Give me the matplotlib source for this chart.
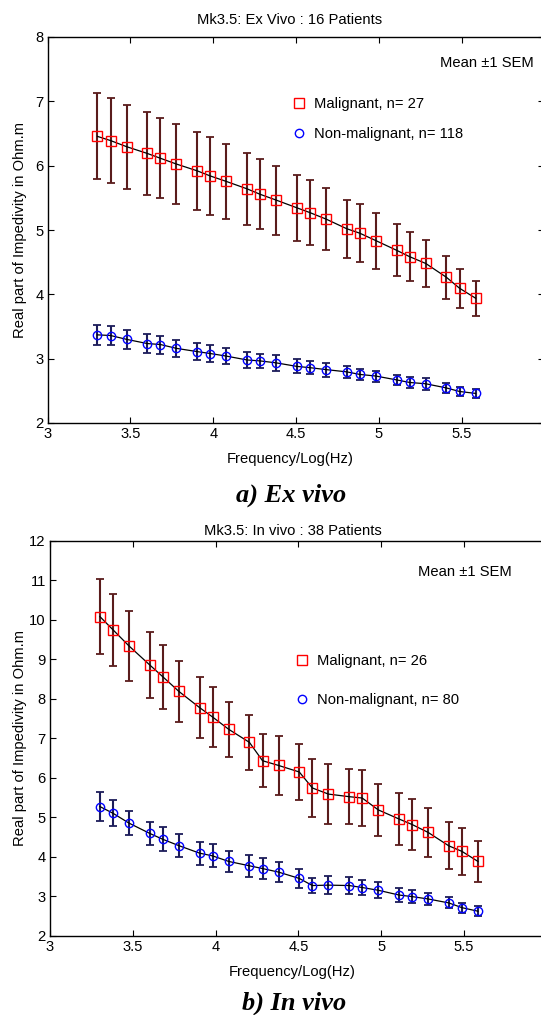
import matplotlib.pyplot as plt
import numpy as np
from matplotlib.lines import Line2D

# measurement frequencies (Hz), plotted on a log10 axis
freq_hz = [2000, 2400, 3000, 4000, 4800, 6000, 8000, 9600, 12000, 16000,
           19200, 24000, 32000, 38400, 48000, 64000, 76800, 96000, 128000,
           153600, 192000, 256000, 307200, 384000]

# ex vivo: 16 patients
exv_mal_mean = [6.455, 6.39, 6.295, 6.19, 6.115, 6.025, 5.92, 5.84, 5.755, 5.64,
                5.555, 5.465, 5.345, 5.27, 5.17, 5.02, 4.95, 4.835, 4.685, 4.585,
                4.48, 4.265, 4.095, 3.94]
exv_mal_sem = [0.67, 0.665, 0.655, 0.645, 0.625, 0.625, 0.61, 0.60, 0.585, 0.56,
               0.545, 0.535, 0.51, 0.505, 0.48, 0.45, 0.45, 0.435, 0.405, 0.385,
               0.37, 0.335, 0.305, 0.27]
exv_non_mean = [3.37, 3.36, 3.30, 3.235, 3.22, 3.16, 3.11, 3.08, 3.04, 2.98,
                2.965, 2.935, 2.88, 2.86, 2.83, 2.795, 2.755, 2.73, 2.67, 2.63,
                2.61, 2.545, 2.49, 2.46]
exv_non_sem = [0.155, 0.15, 0.15, 0.145, 0.14, 0.135, 0.135, 0.13, 0.12, 0.12,
               0.115, 0.12, 0.11, 0.105, 0.11, 0.095, 0.09, 0.085, 0.08, 0.08,
               0.09, 0.08, 0.07, 0.065]

# in vivo: 38 patients
inv_mal_mean = [10.08, 9.745, 9.335, 8.855, 8.555, 8.185, 7.775, 7.535, 7.225, 6.895,
                6.43, 6.31, 6.145, 5.74, 5.585, 5.52, 5.485, 5.185, 4.955, 4.815,
                4.615, 4.275, 4.135, 3.88]
inv_mal_sem = [0.95, 0.915, 0.875, 0.835, 0.805, 0.765, 0.765, 0.755, 0.695, 0.695,
               0.67, 0.74, 0.705, 0.74, 0.765, 0.70, 0.705, 0.665, 0.655, 0.645,
               0.615, 0.595, 0.595, 0.52]
inv_non_mean = [5.27, 5.10, 4.85, 4.59, 4.44, 4.28, 4.09, 4.02, 3.88, 3.77,
                3.70, 3.61, 3.45, 3.27, 3.28, 3.27, 3.22, 3.15, 3.03, 2.99,
                2.93, 2.83, 2.71, 2.62]
inv_non_sem = [0.36, 0.33, 0.30, 0.29, 0.305, 0.30, 0.29, 0.29, 0.275, 0.28,
               0.255, 0.26, 0.23, 0.20, 0.22, 0.22, 0.19, 0.20, 0.17, 0.17,
               0.16, 0.14, 0.13, 0.12]

panels = [
    dict(title='Mk3.5: Ex Vivo : 16 Patients', caption='a) Ex vivo',
         mal=(exv_mal_mean, exv_mal_sem), non=(exv_non_mean, exv_non_sem),
         n_mal=27, n_non=118, ylim=(2, 8), yticks=range(2, 9)),
    dict(title='Mk3.5: In vivo : 38 Patients', caption='b) In vivo',
         mal=(inv_mal_mean, inv_mal_sem), non=(inv_non_mean, inv_non_sem),
         n_mal=26, n_non=80, ylim=(2, 12), yticks=range(2, 13)),
]

W, H = 541, 1015
FS = 10.6
plt.rcParams['font.family'] = ['Liberation Sans', 'DejaVu Sans']
fig = plt.figure(figsize=(W / 100, H / 100), dpi=100)


def fx(px):
    return px / W


def fy(py):
    return 1 - py / H


# axes boxes in pixels: left, top, right, bottom
boxes = [(47.6, 37, 544.4, 423), (50, 540.7, 546.8, 935.7)]
title_y = [20, 531]
xlabel_y = [459, 972]
caption_xy = [(291, 502), (294, 1010)]
meanlbl = [(440, 63), (418, 572)]
legend_xy = [(292, 97), (295, 654)]
legend_gap = [1.1, 1.7]

x = np.log10(freq_hz)

for i, p in enumerate(panels):
    l, t, r, b = boxes[i]
    ax = fig.add_axes([fx(l), fy(b), fx(r) - fx(l), fy(t) - fy(b)])
    ax.set_xlim(3, 6)
    ax.set_ylim(*p['ylim'])
    ax.set_xticks(np.arange(3, 6.01, 0.5))
    ax.set_xticklabels(['3', '3.5', '4', '4.5', '5', '5.5', ''])
    ax.set_yticks(list(p['yticks']))
    ax.tick_params(direction='in', length=4, width=0.8, top=True, right=True,
                   labelsize=FS, pad=3)
    for s in ax.spines.values():
        s.set_linewidth(1.0)

    for (mean, sem), ebc, mc, mk, ms in [
            (p['mal'], '#5a1c1c', 'red', 's', 6.5),
            (p['non'], '#1c1c5a', 'blue', 'o', 6.0)]:
        ax.errorbar(x, mean, yerr=sem, fmt='none', ecolor=ebc, elinewidth=1.5,
                    capsize=3, capthick=1.3, zorder=2)
        ax.plot(x, mean, color='black', lw=0.9, zorder=3)
        ax.plot(x, mean, ls='none', marker=mk, ms=ms, mfc='none', mec=mc,
                mew=1.0, zorder=4)

    handles = [
        Line2D([], [], ls='none', marker='s', ms=6.5, mfc='none', mec='red', mew=1.0),
        Line2D([], [], ls='none', marker='o', ms=6.0, mfc='none', mec='blue', mew=1.0),
    ]
    lx, ly = legend_xy[i]
    fig.legend(handles, [f"Malignant, n= {p['n_mal']}", f"Non-malignant, n= {p['n_non']}"],
               loc='upper left', bbox_to_anchor=(fx(lx), fy(ly)), frameon=False,
               fontsize=FS, handlelength=1.0, handletextpad=0.5,
               labelspacing=legend_gap[i], borderpad=0, borderaxespad=0)

    fig.text(fx(meanlbl[i][0]), fy(meanlbl[i][1]), 'Mean \u00b11 SEM', fontsize=FS,
             ha='left', va='center')
    fig.text(fx((l + r) / 2 - 6), fy(title_y[i]), p['title'], fontsize=FS,
             ha='center', va='center')
    fig.text(fx((l + r) / 2 - 6), fy(xlabel_y[i]), 'Frequency/Log(Hz)', fontsize=FS,
             ha='center', va='center')
    fig.text(fx(20), fy((t + b) / 2), 'Real part of Impedivity in Ohm.m', fontsize=FS,
             rotation=90, ha='center', va='center')
    cx, cy = caption_xy[i]
    fig.text(fx(cx), fy(cy), p['caption'], fontsize=19,
             family=['Liberation Serif', 'DejaVu Serif'], weight='bold', style='italic',
             ha='center', va='baseline')

fig.savefig('out.png', dpi=100)
